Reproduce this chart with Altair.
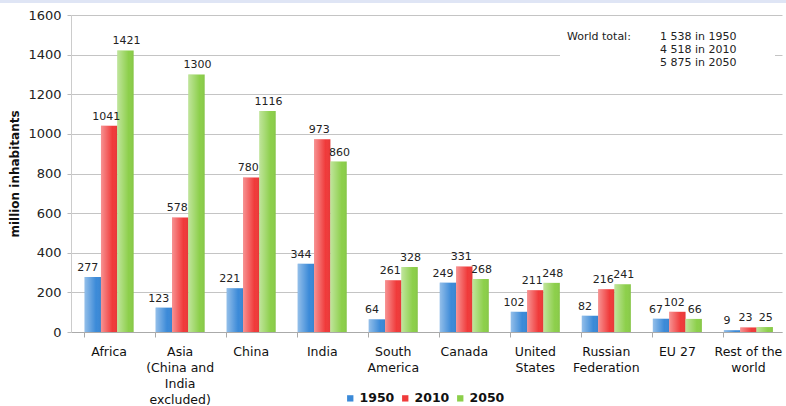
import altair as alt
import pandas as pd

categories = ["Africa", "Asia|(China and|India|excluded)", "China", "India",
              "South|America", "Canada", "United|States", "Russian|Federation",
              "EU 27", "Rest of the|world"]
years = ["1950", "2010", "2050"]
v1950 = [277, 123, 221, 344, 64, 249, 102, 82, 67, 9]
v2010 = [1041, 578, 780, 973, 261, 331, 211, 216, 102, 23]
v2050 = [1421, 1300, 1116, 860, 328, 268, 248, 241, 66, 25]
colors = ["#3b8ad8", "#f03a3a", "#8ccf4a"]
label_shift = [-5, -3, 1]
y_ticks = [0, 200, 400, 600, 800, 1000, 1200, 1400, 1600]
world_label = "World total:"
world_lines = ["1 538 in 1950", "4 518 in 2010", "5 875 in 2050"]

rows = []
for i, c in enumerate(categories):
    for y, vals in zip(years, [v1950, v2010, v2050]):
        rows.append({"region": c, "year": y, "value": vals[i]})
df = pd.DataFrame(rows)

FONT = "DejaVu Sans"

base = alt.Chart(df).encode(
    x=alt.X("region:N", sort=categories, title=None,
            scale=alt.Scale(paddingInner=0.31, paddingOuter=0.16, align=0.6),
            axis=alt.Axis(labelExpr="split(datum.label, '|')", labelAngle=0,
                          labelFontSize=12.5, labelColor="#111", labelFont=FONT,
                          labelLineHeight=16, labelPadding=8, labelBaseline="top",
                          bandPosition=0, tickSize=5, tickColor="#aaa",
                          domainColor="#aaa", grid=False)),
    xOffset=alt.XOffset("year:N", scale=alt.Scale(domain=years, paddingInner=0, paddingOuter=0)),
    y=alt.Y("value:Q", scale=alt.Scale(domain=[0, 1600], nice=False),
            title="million inhabitants",
            axis=alt.Axis(values=y_ticks, format="d", labelFontSize=13, labelColor="#222",
                          labelFont=FONT, labelPadding=6, tickSize=4,
                          tickColor="#bbb", domainColor="#ccc",
                          gridColor="#c4c4c4", titleFont=FONT, titleFontSize=12,
                          titleFontWeight="bold", titleColor="#111", titlePadding=6)),
)

bars = base.mark_bar().encode(
    color=alt.Color("year:N", scale=alt.Scale(domain=years, range=colors),
                    legend=alt.Legend(orient="none", legendX=273, legendY=377,
                                      direction="horizontal", title=None,
                                      symbolType="square", symbolSize=40,
                                      symbolStrokeWidth=0,
                                      labelFont=FONT, labelFontSize=12.5,
                                      labelFontWeight="bold", labelColor="#111",
                                      columnPadding=4, labelOffset=3))
)

shine = base.mark_bar(
    color=alt.Gradient(
        gradient="linear",
        stops=[alt.GradientStop(color="rgba(255,255,255,0.45)", offset=0),
               alt.GradientStop(color="rgba(255,255,255,0.0)", offset=0.7),
               alt.GradientStop(color="rgba(0,0,0,0.05)", offset=1)],
        x1=0, x2=1, y1=0, y2=0)
)

label_layers = [
    base.transform_filter(alt.datum.year == yr)
        .mark_text(dy=-9, dx=sh, fontSize=11, font=FONT, color="#222")
        .encode(text="value:Q")
    for yr, sh in zip(years, label_shift)
]

note_df = pd.DataFrame({"label": [world_label], "lines": ["\n".join(world_lines)]})
note_box = alt.Chart(note_df).mark_rect(color="white").encode(
    x=alt.value(489), x2=alt.value(704), y=alt.value(8), y2=alt.value(56))
note_title = alt.Chart(note_df).mark_text(align="left", baseline="middle", fontSize=11,
                                           font=FONT, color="#222").encode(
    x=alt.value(496), y=alt.value(22), text="label:N")
note_lines = alt.Chart(note_df).mark_text(align="left", baseline="middle", fontSize=11,
                                           font=FONT, color="#222", lineBreak="\n",
                                           lineHeight=13).encode(
    x=alt.value(589), y=alt.value(22), text="lines:N")

top_strip = alt.Chart(note_df).mark_rect(color="#dfe5f5").encode(
    x=alt.value(-71), x2=alt.value(715), y=alt.value(-15), y2=alt.value(-12))

chart = alt.layer(bars, shine, *label_layers, note_box, note_title, note_lines,
                  top_strip).properties(
    width=711, height=317,
    autosize=alt.AutoSizeParams(type="none"),
    padding={"left": 71, "top": 15, "right": 4, "bottom": 74},
    background="white",
).configure_view(stroke=None)

chart.save("out.html", embed_options={"renderer": "svg", "actions": False})
